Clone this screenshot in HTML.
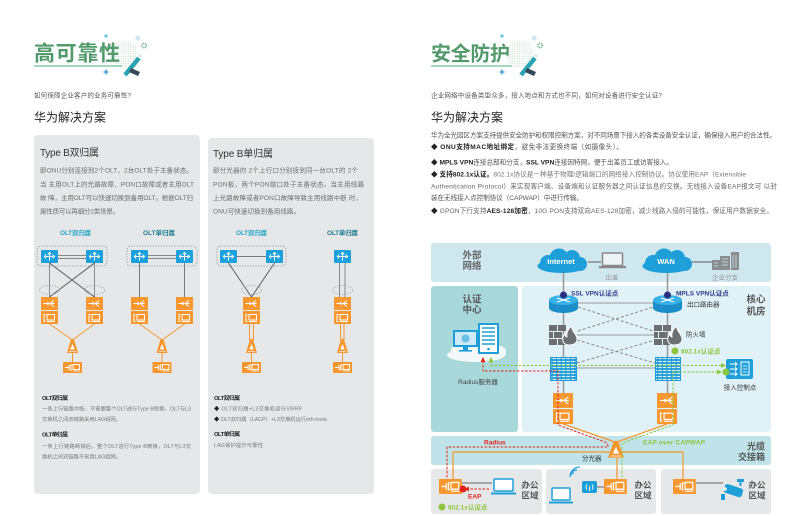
<!DOCTYPE html>
<html><head><meta charset="utf-8">
<style>
html,body{margin:0;padding:0;background:#fff;}
svg{display:block;}
text{font-family:"Liberation Sans","Noto Sans CJK SC",sans-serif;}
.b{font-weight:bold;}
</style></head><body>
<svg width="801" height="516" viewBox="0 0 801 516" xmlns="http://www.w3.org/2000/svg">
<defs>
 <pattern id="dots" width="2.4" height="2.4" patternUnits="userSpaceOnUse"><circle cx="1.2" cy="1.2" r="0.55" fill="#a9d6b4"/></pattern>
 <pattern id="gridp" width="4.6" height="3" patternUnits="userSpaceOnUse"><rect x="0.5" y="0.9" width="3.6" height="1.2" fill="#ffffff" opacity="0.85"/></pattern>
 <g id="sw"><rect width="17" height="13" rx="1" fill="#1ca1dc"/><path d="M3.5 6.5H13.5M8.5 2.5V10.5M11.5 4.8l2 1.7-2 1.7M6.8 4.3l1.7-1.8 1.7 1.8M5 8.5l-1.5-2 1.5-2" stroke="#fff" stroke-width="1" fill="none"/></g>
 <g id="olt"><rect width="17" height="13" fill="#f7972f"/><rect y="14" width="17" height="13" fill="#f7972f"/><path d="M2.5 6.5H8M6.5 5l1.5 1.5-1.5 1.5M9 6.5l4-3M9 6.5h4.5M9 6.5l4 3" stroke="#fff" stroke-width="1" fill="none"/><path d="M4.5 17.5h-1.5v7h1.5" stroke="#fff" fill="none"/><rect x="6" y="17.5" width="7.5" height="5.5" stroke="#fff" fill="none"/><path d="M6 24.5h8" stroke="#fff"/></g>
 <g id="spl"><path d="M4 0h3l4 14H0z" fill="#f7972f"/><path d="M5.5 5l2.2 5.5h-4.4z" fill="#fff"/><path d="M2 12.5h7" stroke="#fff" stroke-width="0.6"/></g>
 <g id="onu"><rect width="19" height="11" fill="#f7972f"/><path d="M2 5.5h4M6 3v5M9 3h-1.2v5H9" stroke="#fff" fill="none"/><rect x="10" y="2.5" width="6.5" height="5" stroke="#fff" fill="none"/><path d="M10 9h7" stroke="#fff" stroke-width="0.8"/></g>
 <g id="deco">
  <circle cx="124" cy="54" r="14" fill="url(#dots)"/>
  <path d="M104 36H108M106 34V38" stroke="#49b8e0" stroke-width="1"/>
  <path d="M103.5 72H108.5M106 69.5V74.5" stroke="#2a8fd0" stroke-width="1.3"/>
  <circle cx="138" cy="38" r="2.6" fill="#cfe6f3"/>
  <circle cx="144" cy="45.5" r="2.2" fill="none" stroke="#6ab187" stroke-width="1.6" stroke-dasharray="1 0.8"/>
  <path d="M139 58L125 75" stroke="#2aa3b3" stroke-width="4.5"/>
  <path d="M139.5 56.5L141 55" stroke="#c9e6ea" stroke-width="3"/>
  <path d="M131 68L140 72L138 76L129 72Z" fill="#34495a"/>
 </g>
 <g id="router"><rect x="0" y="5" width="29" height="8" fill="#1b8ec9"/><ellipse cx="14.5" cy="13" rx="14.5" ry="5" fill="#1b8ec9"/><ellipse cx="14.5" cy="5" rx="14.5" ry="5" fill="#38b2e6"/><path d="M8 3L21 7M8 7L21 3" stroke="#fff" stroke-width="1"/></g>
 <g id="fw" fill="#6d6e71"><rect x="0" y="0" width="8" height="6"/><rect x="9" y="0" width="8" height="6"/><rect x="0" y="7" width="4" height="6"/><rect x="5" y="7" width="8" height="6"/><rect x="0" y="14" width="8" height="6"/><rect x="9" y="14" width="8" height="6"/><path d="M20 20C13 20 12 13 16 9C16 12 18 12 18 12C17 7 20 3 23 1C22 6 28 9 28 14C28 18 25 20 20 20Z" stroke="#fff" stroke-width="1"/></g>
 <g id="cloud" fill="#1e9fd9"><ellipse cx="26.5" cy="18" rx="24" ry="7"/><circle cx="13" cy="15" r="8"/><circle cx="24" cy="10" r="9.5"/><circle cx="37" cy="10" r="8"/><circle cx="45" cy="16" r="7"/></g>
</defs>

<!-- ============ LEFT PAGE ============ -->
<use href="#deco"/>
<text x="34" y="60.5" font-size="21" class="b" fill="#529a6b" textLength="86">高可靠性</text>
<line x1="34" y1="66" x2="122" y2="66" stroke="#4caf78" stroke-width="1"/>
<text x="34" y="97.5" font-size="6.5" fill="#555" textLength="97">如何保障企业客户的业务可靠性?</text>
<text x="34" y="121.5" font-size="12" fill="#222" textLength="72">华为解决方案</text>

<rect x="34" y="135" width="166" height="359" rx="4" fill="#e6e7e9"/>
<rect x="208" y="138" width="166" height="356" rx="4" fill="#e6e7e9"/>

<text x="40" y="156" font-size="10" fill="#333" textLength="59">Type B双归属</text>
<text x="40" y="172.5" font-size="6.5" fill="#6d6d6d" textLength="153">即ONU分别连接到2个OLT，2台OLT处于主备状态。</text>
<text x="40" y="186.5" font-size="6.5" fill="#6d6d6d" textLength="154">当 主用OLT上的光路故障、PON口故障或者主用OLT</text>
<text x="40" y="200" font-size="6.5" fill="#6d6d6d" textLength="153">故 障，主用OLT可以快速切换到备用OLT。根据OLT归</text>
<text x="40" y="213.5" font-size="6.5" fill="#6d6d6d" textLength="79">属性质可以再细分2类场景。</text>

<text x="213" y="157" font-size="10" fill="#333" textLength="60">Type B单归属</text>
<text x="213" y="172.5" font-size="6.5" fill="#6d6d6d" textLength="145">即分光器的 2个上行口分别接到同一台OLT的 2个</text>
<text x="213" y="186.5" font-size="6.5" fill="#6d6d6d" textLength="151">PON板，两个PON端口处于主备状态。当主用线路</text>
<text x="213" y="200" font-size="6.5" fill="#6d6d6d" textLength="149">上光路故障或者PON口故障导致主用线路中断 时，</text>
<text x="213" y="213.5" font-size="6.5" fill="#6d6d6d" textLength="87">ONU可快速切换到备用线路。</text>

<text x="60" y="235" font-size="6.5" class="b" fill="#2aa6c9" textLength="31">OLT双归属</text>
<text x="143" y="235" font-size="6.5" class="b" fill="#217e93" textLength="32">OLT单归属</text>
<text x="236" y="235" font-size="6.5" class="b" fill="#2aa6c9" textLength="31">OLT双归属</text>
<text x="327" y="235" font-size="6.5" class="b" fill="#217e93" textLength="31">OLT单归属</text>

<!-- Diagram A -->
<rect x="37" y="246" width="70" height="20" rx="4" fill="none" stroke="#999" stroke-width="0.8" stroke-dasharray="1.5 1.2"/>
<path d="M58 255.5H86M58 258.5H86" stroke="#888" stroke-width="1.1"/>
<path d="M49.5 263V297M94.5 263V297" stroke="#8a8a8a" stroke-width="1"/>
<path d="M49.5 263L94.5 297M94.5 263L49.5 297" stroke="#555" stroke-width="0.9"/>
<ellipse cx="49.5" cy="290" rx="10" ry="4.5" fill="none" stroke="#aaa" stroke-width="0.8" stroke-dasharray="1.5 1.2"/>
<ellipse cx="94.5" cy="290" rx="10" ry="4.5" fill="none" stroke="#aaa" stroke-width="0.8" stroke-dasharray="1.5 1.2"/>
<use href="#sw" x="41" y="250"/><use href="#sw" x="86" y="250"/>
<use href="#olt" x="41" y="297"/><use href="#olt" x="86" y="297"/>
<path d="M49.5 324L72.5 340M94.5 324L72.5 340M72.5 353V362" stroke="#f7972f" stroke-width="1"/>
<use href="#spl" x="67" y="339"/><use href="#onu" x="63" y="362"/>

<!-- Diagram B -->
<rect x="127" y="246" width="70" height="20" rx="4" fill="none" stroke="#999" stroke-width="0.8" stroke-dasharray="1.5 1.2"/>
<path d="M148 255.5H176M148 258.5H176" stroke="#888" stroke-width="1.1"/>
<path d="M139.5 263V297M184.5 263V297" stroke="#777" stroke-width="1"/>
<use href="#sw" x="131" y="250"/><use href="#sw" x="176" y="250"/>
<use href="#olt" x="131" y="297"/><use href="#olt" x="176" y="297"/>
<path d="M139.5 324L162 340M184.5 324L162 340M162 353V362" stroke="#f7972f" stroke-width="1"/>
<use href="#spl" x="156.5" y="339"/><use href="#onu" x="152.5" y="362"/>

<!-- Diagram C -->
<rect x="217" y="246" width="69" height="20" rx="4" fill="none" stroke="#999" stroke-width="0.8" stroke-dasharray="1.5 1.2"/>
<path d="M237 256.5H266" stroke="#777" stroke-width="1"/>
<path d="M228.5 263L251.5 297M274.5 263L251.5 297" stroke="#555" stroke-width="0.9"/>
<ellipse cx="251.5" cy="290" rx="10" ry="4.5" fill="none" stroke="#aaa" stroke-width="0.8" stroke-dasharray="1.5 1.2"/>
<use href="#sw" x="220" y="250"/><use href="#sw" x="266" y="250"/>
<use href="#olt" x="243" y="297"/>
<path d="M249.5 324V340M253.5 324V340M251.5 353V362" stroke="#f7972f" stroke-width="1"/>
<use href="#spl" x="246" y="339"/><use href="#onu" x="242" y="362"/>

<!-- Diagram D -->
<path d="M339.5 263V297M345 263V297" stroke="#888" stroke-width="1"/>
<ellipse cx="342.5" cy="290" rx="10" ry="4.5" fill="none" stroke="#aaa" stroke-width="0.8" stroke-dasharray="1.5 1.2"/>
<use href="#sw" x="334" y="250"/>
<use href="#olt" x="334" y="297"/>
<path d="M340.5 324V340M344 324V340M342.5 353V362" stroke="#f7972f" stroke-width="1"/>
<use href="#spl" x="337" y="339"/><use href="#onu" x="333" y="362"/>

<!-- bottom notes -->
<text x="42" y="400.2" font-size="5.8" class="b" fill="#222" textLength="26">OLT双归属</text>
<text x="42" y="410.3" font-size="5.3" fill="#777" textLength="149">一条上行链路中断，不需要整个OLT进行Type B倒换，OLT与L3</text>
<text x="42" y="421" font-size="5.3" fill="#777" textLength="79">交换机之间双链路采用LAG组网。</text>
<text x="42" y="436.3" font-size="5.8" class="b" fill="#222" textLength="26">OLT单归属</text>
<text x="42" y="448" font-size="5.3" fill="#777" textLength="149">一条上行链路断掉后，整个OLT进行Type B倒换，OLT与L3交</text>
<text x="42" y="458.3" font-size="5.3" fill="#777" textLength="79">换机之间双链路不采用LAG组网。</text>

<text x="214" y="400.2" font-size="5.8" class="b" fill="#222" textLength="26">OLT双归属</text>
<text x="214" y="410.3" font-size="5.3" fill="#777" textLength="88"><tspan fill="#222">◆</tspan> OLT双归属+L3交换机运行VRRP</text>
<text x="214" y="421" font-size="5.3" fill="#777" textLength="113"><tspan fill="#222">◆</tspan> OLT双归属（LACP）+L3交换机运行eth-trunk</text>
<text x="214" y="436" font-size="5.8" class="b" fill="#222" textLength="26">OLT单归属</text>
<text x="214" y="447" font-size="5.3" fill="#777" textLength="49">LAG保护提升可靠性</text>

<!-- ============ RIGHT PAGE ============ -->
<use href="#deco" x="396"/>
<text x="431" y="60.5" font-size="20" class="b" fill="#529a6b" textLength="79">安全防护</text>
<line x1="431" y1="66" x2="512" y2="66" stroke="#4caf78" stroke-width="1"/>
<text x="431" y="97.5" font-size="6.5" fill="#555" textLength="231">企业网络中设备类型众多，接入地点和方式也不同，如何对设备进行安全认证?</text>
<text x="431" y="121.5" font-size="12" fill="#222" textLength="72">华为解决方案</text>

<text x="431" y="137.4" font-size="6.6" fill="#555" textLength="345">华为全光园区方案支持提供安全防护和权限控制方案，对不同场景下接入的各类设备安全认证，确保接入用户的合法性。</text>
<text x="431" y="149.1" font-size="6.6" fill="#555" textLength="192"><tspan fill="#222">◆ </tspan><tspan class="b" fill="#222">ONU支持MAC地址绑定</tspan>，避免非法更换终端（如摄像头）。</text>
<text x="431" y="164.7" font-size="6.6" fill="#555" textLength="242"><tspan fill="#222">◆ </tspan><tspan class="b" fill="#222">MPLS VPN</tspan>连接总部和分支，<tspan class="b" fill="#222">SSL VPN</tspan>连接因特网，便于出差员工或访客接入。</text>
<text x="431" y="176.4" font-size="6.6" fill="#777" textLength="315"><tspan fill="#222">◆ </tspan><tspan class="b" fill="#222">支持802.1x认证。</tspan>802.1x协议是一种基于物理/逻辑端口的网络接入控制协议。协议使用EAP（Extensible</text>
<text x="431" y="188.4" font-size="6.6" fill="#666" textLength="346">Authentication Protocol）来实现客户端、设备端和认证服务器之间认证信息的交换。无线接入设备EAP报文可 以封</text>
<text x="431" y="200.1" font-size="6.6" fill="#555" textLength="152">装在无线接入点控制协议（CAPWAP）中进行传输。</text>
<text x="431" y="213.1" font-size="6.6" fill="#666" textLength="342"><tspan fill="#222">◆ </tspan>GPON下行支持<tspan class="b" fill="#222">AES-128加密</tspan>，10G PON支持双向AES-128加密，减少线路入侵的可能性，保证用户数据安全。</text>

<!-- bands -->
<rect x="431" y="243" width="340" height="39" rx="3" fill="#cfe7ef"/>
<rect x="431" y="286" width="87" height="146" rx="3" fill="#a9d8da"/>
<rect x="522" y="286" width="249" height="146" rx="3" fill="#e1f1f8"/>
<rect x="431" y="436" width="340" height="29" rx="3" fill="#bfe3e8"/>
<rect x="431" y="469" width="111" height="45" rx="3" fill="#e6e7e9"/>
<rect x="546" y="469" width="110" height="45" rx="3" fill="#e6e7e9"/>
<rect x="661" y="469" width="110" height="45" rx="3" fill="#e6e7e9"/>

<text x="472" y="258.6" font-size="9.5" class="b" fill="#666" text-anchor="middle">外部</text>
<text x="472" y="269" font-size="9.5" class="b" fill="#666" text-anchor="middle">网络</text>
<text x="472" y="302.5" font-size="9.5" class="b" fill="#555" text-anchor="middle">认证</text>
<text x="472" y="313" font-size="9.5" class="b" fill="#555" text-anchor="middle">中心</text>
<text x="756" y="302.5" font-size="9.5" class="b" fill="#555" text-anchor="middle">核心</text>
<text x="756" y="314.5" font-size="9.5" class="b" fill="#555" text-anchor="middle">机房</text>
<text x="765" y="449.5" font-size="9" class="b" fill="#555" text-anchor="end">光缆</text>
<text x="765" y="459.8" font-size="9" class="b" fill="#555" text-anchor="end">交接箱</text>
<text x="530" y="488.2" font-size="8.5" class="b" fill="#555" text-anchor="middle">办公</text>
<text x="530" y="498.4" font-size="8.5" class="b" fill="#555" text-anchor="middle">区域</text>
<text x="643" y="488.2" font-size="8.5" class="b" fill="#555" text-anchor="middle">办公</text>
<text x="643" y="498.4" font-size="8.5" class="b" fill="#555" text-anchor="middle">区域</text>
<text x="757" y="488.2" font-size="8.5" class="b" fill="#555" text-anchor="middle">办公</text>
<text x="757" y="498.4" font-size="8.5" class="b" fill="#555" text-anchor="middle">区域</text>

<!-- external network -->
<path d="M563.5 272V393M667.5 272V393" stroke="#999" stroke-width="1.5"/>
<use href="#cloud" x="535" y="248"/>
<use href="#cloud" x="640" y="248"/>
<text x="561" y="264" font-size="7.5" class="b" fill="#fff" text-anchor="middle">Internet</text>
<text x="666" y="264" font-size="7.5" class="b" fill="#fff" text-anchor="middle">WAN</text>
<path d="M588 262H601M692 262H712" stroke="#888" stroke-width="1.5"/>
<rect x="602.5" y="253" width="20" height="12.5" rx="1" fill="#eef4f6" stroke="#888" stroke-width="1.5"/>
<rect x="599" y="266" width="27" height="2.2" fill="#888"/>
<g fill="#8a8c8e"><rect x="712" y="260" width="8" height="10"/><rect x="720" y="256" width="10" height="14"/><rect x="731" y="252" width="8" height="18"/></g>
<path d="M714 263h4M714 266h4M722 259h6M722 262h6M722 265h6M733 255v13M736 255v13" stroke="#cfe7ef" stroke-width="0.8"/>
<text x="612" y="279.5" font-size="6.5" fill="#999" text-anchor="middle">出差</text>
<text x="725" y="279.5" font-size="6.5" fill="#999" text-anchor="middle">企业分支</text>

<!-- core lines -->
<path d="M578 303H653M577 335H655M577 368H655" stroke="#999" stroke-width="1"/>
<path d="M578 307L653 331M578 331L653 307M577 340L655 363M577 363L655 340" stroke="#888" stroke-width="1" stroke-dasharray="3 2" fill="none"/>

<use href="#router" x="549" y="295"/>
<use href="#router" x="653" y="295"/>
<circle cx="563.5" cy="295" r="3.5" fill="#2b2f7e"/>
<circle cx="667.5" cy="295" r="3.5" fill="#2b2f7e"/>
<text x="571" y="295.5" font-size="6.5" class="b" fill="#2f3a8a">SSL VPN认证点</text>
<text x="676" y="295.5" font-size="6.5" class="b" fill="#2f3a8a">MPLS VPN认证点</text>
<text x="687" y="306.5" font-size="6.5" fill="#333">出口路由器</text>

<use href="#fw" x="549" y="325"/>
<use href="#fw" x="654" y="325"/>
<text x="686" y="336.5" font-size="6.5" fill="#333">防火墙</text>
<circle cx="675" cy="351" r="3.5" fill="#8cc63f"/>
<text x="681" y="353.5" font-size="6.5" class="b" fill="#8cc63f">802.1x认证点</text>

<rect x="550" y="357" width="27" height="24" fill="#1b9bd7"/>
<rect x="551" y="358" width="25" height="22" fill="url(#gridp)"/>
<rect x="655" y="357" width="26" height="24" fill="#1b9bd7"/>
<rect x="656" y="358" width="24" height="22" fill="url(#gridp)"/>

<!-- access control point -->
<rect x="726" y="359" width="27" height="20" rx="2" fill="#1e9fd9"/>
<path d="M730 364h7M730 369h7M730 374h7M735 362l2 2-2 2M735 367l2 2-2 2M735 372l2 2-2 2" stroke="#fff" stroke-width="0.9" fill="none"/>
<rect x="741" y="362" width="8" height="13" fill="none" stroke="#fff" stroke-width="1"/>
<path d="M743 366h4M743 369h4M743 372h4" stroke="#fff" stroke-width="0.7"/>
<text x="740" y="389.5" font-size="6.5" fill="#333" text-anchor="middle">接入控制点</text>

<!-- radius server -->
<g fill="#f4f8f8"><ellipse cx="476" cy="355" rx="29" ry="7"/><circle cx="458" cy="351" r="7"/><circle cx="470" cy="346" r="9"/><circle cx="490" cy="347" r="9"/><circle cx="500" cy="352" r="6"/></g>
<rect x="453" y="330" width="25" height="17" fill="#1e9fd9"/>
<rect x="455" y="332" width="21" height="13" fill="#cfeaf7"/>
<circle cx="465.5" cy="338.5" r="4" fill="#6cc0e8"/>
<rect x="463" y="347" width="5" height="3" fill="#1e9fd9"/>
<rect x="459" y="350" width="13" height="1.6" fill="#1e9fd9"/>
<rect x="479" y="324" width="19" height="29" fill="#fff" stroke="#1e9fd9" stroke-width="2"/>
<path d="M482 328h13M482 332h13M482 336h13M482 340h13M482 344h13" stroke="#1e9fd9" stroke-width="1.6"/>
<circle cx="488.5" cy="349" r="1.3" fill="#1e9fd9"/>
<text x="478" y="384" font-size="6.5" fill="#444" text-anchor="middle">Radius服务器</text>

<!-- OLTs -->
<use href="#olt" transform="translate(553,393) scale(1.18,1.15)"/>
<use href="#olt" transform="translate(657,393) scale(1.18,1.15)"/>

<!-- orange fiber -->
<path d="M563 424L615 442M667 424L617 442" stroke="#f7972f" stroke-width="1.2" fill="none"/>
<path d="M453 479V452H683V479M617 458V479" stroke="#f7972f" stroke-width="1.2" fill="none"/>
<use href="#spl" transform="translate(608,441) scale(1.45,1.2)"/>
<text x="582" y="460.5" font-size="6.5" fill="#333">分光器</text>

<!-- dashed red -->
<path d="M483 361V371H558V425L605 442Q608.5 444 608 447H447V478" stroke="#e2231a" stroke-width="1" stroke-dasharray="2.5 1.5" fill="none"/>
<path d="M480.5 362L483 357L485.5 362Z" fill="#e2231a"/>
<text x="484" y="444.5" font-size="6.5" class="b" fill="#e2231a">Radius</text>

<!-- dashed green -->
<path d="M491 361V365.5H722" stroke="#8cc63f" stroke-width="1" stroke-dasharray="2.5 1.5" fill="none"/>
<path d="M488.5 362L491 357L493.5 362Z" fill="#8cc63f"/>
<path d="M721 363L726 365.5L721 368Z" fill="#8cc63f"/>
<path d="M718 372H673V425L622 443V479" stroke="#8cc63f" stroke-width="1" stroke-dasharray="2.5 1.5" fill="none"/>
<path d="M717 369.5L722 372L717 374.5Z" fill="#8cc63f"/>
<circle cx="726" cy="372" r="3.5" fill="#8cc63f"/>
<text x="643" y="444.5" font-size="6.5" class="b" fill="#8cc63f" textLength="62">EAP over CAPWAP</text>

<!-- office areas -->
<path d="M462 483H492M597 487H604M696 483H723" stroke="#666" stroke-width="1"/>
<use href="#onu" transform="translate(439,479) scale(1.2,1.36)"/>
<use href="#onu" transform="translate(604,479) scale(1.2,1.36)"/>
<use href="#onu" transform="translate(673,479) scale(1.2,1.36)"/>
<path d="M489 489H467" stroke="#e2231a" stroke-width="1" stroke-dasharray="2.5 1.5"/>
<path d="M469 486.5L464.5 489L469 491.5Z" fill="#e2231a"/>
<circle cx="463" cy="489" r="3.5" fill="#e2231a"/>
<text x="468" y="498.5" font-size="6.5" class="b" fill="#e2231a">EAP</text>
<rect x="494" y="479" width="19" height="12" rx="1" fill="#fff" stroke="#1e9fd9" stroke-width="1.5"/>
<path d="M491 493.5H516" stroke="#1e9fd9" stroke-width="2"/>
<circle cx="442" cy="507" r="3.5" fill="#8cc63f"/>
<text x="448" y="509.5" font-size="6.5" class="b" fill="#8cc63f">802.1x认证点</text>

<rect x="582" y="481" width="15" height="12" rx="2" fill="#1e9fd9"/>
<path d="M587 484.5q-2 2.5 0 5M592 484.5q2 2.5 0 5M589.5 486v5" stroke="#fff" stroke-width="0.9" fill="none"/>
<path d="M570 477a4 4 0 0 1 4-4M570 477a7 7 0 0 1 7-7M570 477a10 10 0 0 1 10-10" stroke="#1e9fd9" stroke-width="1.2" fill="none"/>
<rect x="552" y="488" width="18" height="12" rx="1" fill="#fff" stroke="#1e9fd9" stroke-width="1.5"/>
<path d="M549 502.5H573" stroke="#1e9fd9" stroke-width="2"/>

<rect x="737" y="479" width="7" height="3" fill="#1e9fd9"/>
<path d="M740.5 482V486" stroke="#1e9fd9" stroke-width="2"/>
<rect x="724" y="486" width="19" height="9" rx="2.5" fill="#1e9fd9" transform="rotate(18 733 490)"/>
<circle cx="725" cy="489" r="1.8" fill="#fff"/>
<rect x="721" y="494" width="4" height="6" fill="#1e9fd9"/>
</svg>
</body></html>
